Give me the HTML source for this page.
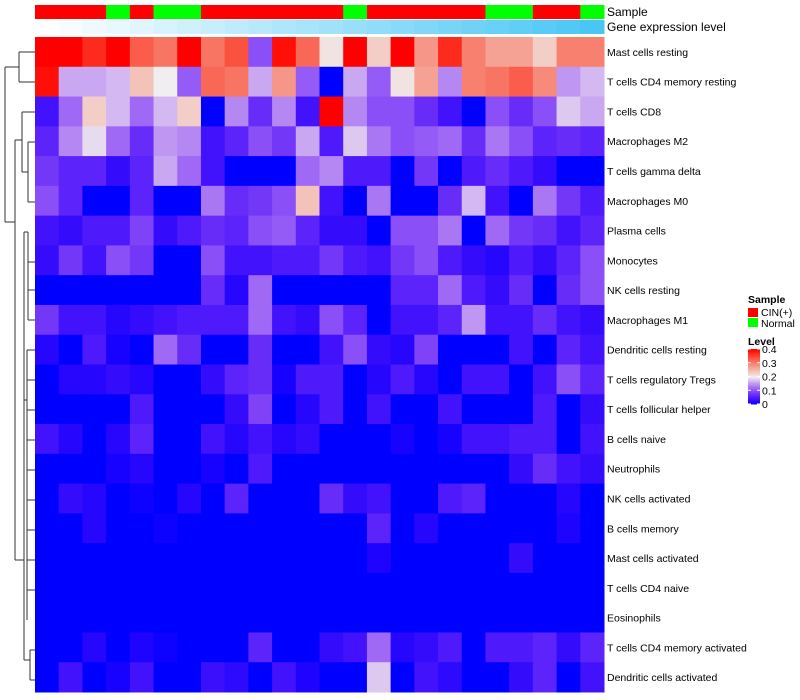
<!DOCTYPE html>
<html><head><meta charset="utf-8"><style>
body{margin:0;background:#fff;}
svg{display:block;font-family:"Liberation Sans",Arial,sans-serif;}
</style></head><body>
<svg id="chart" width="800" height="700" viewBox="0 0 800 700">
<g id="dendro" stroke="#333" fill="none" stroke-width="1">
<path d="M19,52 H35 M19,82 H35 M19,52 V82 M5,67 H19 M5,67 V222 M5,222 H15"/>
<path d="M15,140 V560 M15,140 H22 M22,112 V172 M22,112 H35 M22,172 H28 M28,142 V202 M28,142 H35 M28,202 H35"/>
<path d="M15,560 H24 M24,232 V660 M24,232 H28 M28,232 V320 M28,262 H35 M28,290 H35 M28,320 H35 M24,400 H27 M27,350 V620 M27,350 H35 M27,380 H35 M27,410 H35 M27,440 H35 M27,470 H35 M27,500 H35 M27,530 H35 M27,560 H35 M27,590 H35 M24,660 H30 M30,650 V680 M30,650 H35 M30,680 H35"/>
</g>
<g id="cells"></g>
<g id="anno"></g>
<g id="labels" font-size="10.5" fill="#000"></g>
<text x="607" y="16" font-size="12">Sample</text>
<text x="607" y="31" font-size="12">Gene expression level</text>
<g font-size="10.5">
<text x="748" y="303" font-weight="bold">Sample</text>
<rect x="748" y="308" width="10" height="9" fill="#ff0000"/>
<text x="761" y="316">CIN(+)</text>
<rect x="748" y="318" width="10" height="9" fill="#00ff00"/>
<text x="761" y="327">Normal</text>
<text x="748" y="345" font-weight="bold">Level</text>
<g id="cbar"></g>
</g>
</svg>
<script>
const rowNames=["Mast cells resting","T cells CD4 memory resting","T cells CD8","Macrophages M2","T cells gamma delta","Macrophages M0","Plasma cells","Monocytes","NK cells resting","Macrophages M1","Dendritic cells resting","T cells regulatory  Tregs","T cells follicular helper","B cells naive","Neutrophils","NK cells activated","B cells memory","Mast cells activated","T cells CD4 naive","Eosinophils","T cells CD4 memory activated","Dendritic cells activated"];
const sampleGroups=["CIN","CIN","CIN","Normal","CIN","Normal","Normal","CIN","CIN","CIN","CIN","CIN","CIN","Normal","CIN","CIN","CIN","CIN","CIN","Normal","Normal","CIN","CIN","Normal"];
const r1=[0.4,0.4,0.37,0.4,0.33,0.31,0.4,0.31,0.34,0.1,0.39,0.32,0.21,0.4,0.23,0.4,0.28,0.37,0.3,0.27,0.27,0.23,0.3,0.3];
const r2=[0.39,0.16,0.16,0.17,0.24,0.2,0.11,0.32,0.31,0.16,0.28,0.11,0,0.16,0.11,0.21,0.27,0.14,0.3,0.31,0.33,0.29,0.15,0.17];
const r3=[0.04,0.12,0.23,0.17,0.12,0.17,0.23,0,0.14,0.07,0.14,0.04,0.4,0.14,0.1,0.1,0.07,0.04,0,0.1,0.07,0.1,0.18,0.16];
const r4=[0.06,0.14,0.19,0.12,0.07,0.15,0.14,0.04,0.06,0.1,0.08,0.16,0.05,0.18,0.13,0.1,0.11,0.12,0.07,0.13,0.1,0.06,0.07,0.06];
const r5=[0.08,0.06,0.06,0.03,0.06,0.16,0.12,0.04,0,0,0,0.12,0.14,0.05,0.05,0,0.08,0,0.05,0.07,0.05,0.03,0,0];
const r6=[0.1,0.06,0,0,0.06,0,0,0.13,0.07,0.08,0.1,0.24,0.04,0,0.13,0,0,0.07,0.17,0.04,0,0.13,0.08,0.05];
const r7=[0.04,0.03,0.05,0.05,0.09,0.03,0.05,0.07,0.06,0.1,0.11,0.06,0.03,0.03,0,0.1,0.1,0.13,0,0.12,0.08,0.07,0.04,0.06];
const r8=[0.03,0.08,0.04,0.1,0.08,0,0,0.1,0.04,0.04,0.05,0.05,0.08,0.05,0.04,0.08,0.1,0.05,0.03,0.02,0.05,0.03,0.06,0.1];
const r9=[0,0,0,0,0,0,0,0.07,0.02,0.12,0,0,0,0,0,0.06,0.06,0.12,0.05,0.03,0.07,0,0.07,0.1];
const r10=[0.08,0.04,0.04,0.02,0.03,0.04,0.05,0.05,0.05,0.12,0.04,0.03,0.1,0.06,0,0.04,0.04,0.06,0.15,0.04,0.04,0.07,0.04,0.03];
const r11=[0.02,0,0.05,0.01,0,0.12,0.07,0,0,0.07,0,0,0.04,0.1,0.03,0.02,0.09,0,0,0,0.04,0,0.06,0.04];
const r12=[0,0.02,0.02,0.03,0.02,0,0,0.03,0.06,0.07,0.01,0.05,0.05,0,0.02,0.05,0.02,0,0.04,0.04,0,0.04,0.1,0.06];
const r13=[0,0,0,0,0.05,0,0,0,0.03,0.09,0,0.02,0.05,0,0.04,0,0,0.04,0,0,0,0.05,0,0.03];
const r14=[0.04,0.02,0,0.02,0.06,0,0,0.04,0.02,0.04,0.02,0.03,0,0,0,0.01,0,0.01,0.04,0.04,0.05,0.05,0,0.04];
const r15=[0,0,0,0.01,0.02,0,0,0.01,0,0.05,0,0,0,0,0,0,0,0,0,0,0.03,0.07,0.04,0.03];
const r16=[0,0.03,0.02,0,0.005,0,0.02,0,0.06,0,0,0,0.07,0.03,0.04,0,0,0.05,0.06,0,0,0,0.02,0];
const r17=[0,0,0.02,0,0,0.005,0,0,0,0,0,0,0,0,0.06,0,0.02,0,0,0,0,0,0.015,0];
const r18=[0,0,0,0,0,0,0,0,0,0,0,0,0,0,0.015,0,0,0,0,0,0.03,0,0,0];
const r19=[0,0,0,0,0,0,0,0,0,0,0,0,0,0,0,0,0,0,0,0,0,0,0,0];
const r20=[0,0,0,0,0,0,0,0,0,0,0,0,0,0,0,0,0,0,0,0,0,0,0,0];
const r21=[0,0,0.02,0,0.015,0.005,0,0,0,0.06,0,0,0.03,0.04,0.12,0.02,0.03,0.05,0,0.05,0.05,0.06,0.03,0.06];
const r22=[0,0.04,0,0.01,0.04,0,0,0.035,0.025,0,0.04,0.015,0,0,0.18,0,0.04,0.025,0,0,0.03,0.06,0,0.04];
const matrix=[r1,r2,r3,r4,r5,r6,r7,r8,r9,r10,r11,r12,r13,r14,r15,r16,r17,r18,r19,r20,r21,r22];
const levelTicks=[0,0.1,0.2,0.3,0.4];

const NS="http://www.w3.org/2000/svg";
const X0=35,X1=604,Y0=37,Y1=692;
const nC=r1.length,nR=matrix.length;
const cw=(X1-X0)/nC,rh=(Y1-Y0)/nR;
const xPos=i=>X0+i*cw, yPos=j=>Y0+j*rh;
function col(v){
  v=Math.max(0,Math.min(0.4,v));
  let r,g,b;
  if(v<=0.2){const t=v/0.2;r=240*Math.pow(t,0.8);g=238*Math.pow(t,1.6);b=255-17*t;}
  else{const s=(v-0.2)/0.2;r=240+15*s;g=238*Math.pow(1-s,0.9);b=238*Math.pow(1-s,1.1);}
  return `rgb(${Math.round(r)},${Math.round(g)},${Math.round(b)})`;
}
function mk(tag,attrs,parent){const e=document.createElementNS(NS,tag);for(const k in attrs)e.setAttribute(k,attrs[k]);parent.appendChild(e);return e;}
const cells=document.getElementById('cells');
matrix.forEach((row,j)=>{
  row.forEach((v,i)=>{
    const r=mk('rect',{x:xPos(i),y:yPos(j),width:cw+0.5,height:rh+0.5,fill:col(v)},cells);
    
    
  });
});
const labels=document.getElementById('labels');
rowNames.forEach((n,j)=>{
  const t=mk('text',{x:607,y:yPos(j)+rh/2+4},labels);
  t.textContent=n;
  
  
});
const anno=document.getElementById('anno');
sampleGroups.forEach((s,i)=>{
  const r=mk('rect',{x:xPos(i),y:5,width:cw+0.5,height:14,fill:s==="CIN"?"#ff0000":"#00ff00"},anno);
  
  
  const t=i/(nC-1);
  const g=mk('rect',{x:xPos(i),y:20,width:cw+0.5,height:14,fill:`rgb(${Math.round(255-181*t)},${Math.round(255-57*t)},${Math.round(255-10*t)})`},anno);
  
  
});
const cbar=document.getElementById('cbar');
const cy0=349,cy1=404;
for(let k=0;k<40;k++){
  const v=0.4*(1-k/40);
  mk('rect',{x:748,y:cy0+k*(cy1-cy0)/40,width:12,height:(cy1-cy0)/40+0.5,fill:col(v)},cbar);
}
levelTicks.forEach(v=>{
  const y=cy1-(v/0.4)*(cy1-cy0);
  mk('line',{x1:748,x2:751,y1:y,y2:y,stroke:"#fff"},cbar);
  mk('line',{x1:757,x2:760,y1:y,y2:y,stroke:"#fff"},cbar);
  const t=mk('text',{x:762,y:y+4,'font-size':10.5},cbar);
  t.textContent=String(v);
  
  
});
</script>
</body></html>
